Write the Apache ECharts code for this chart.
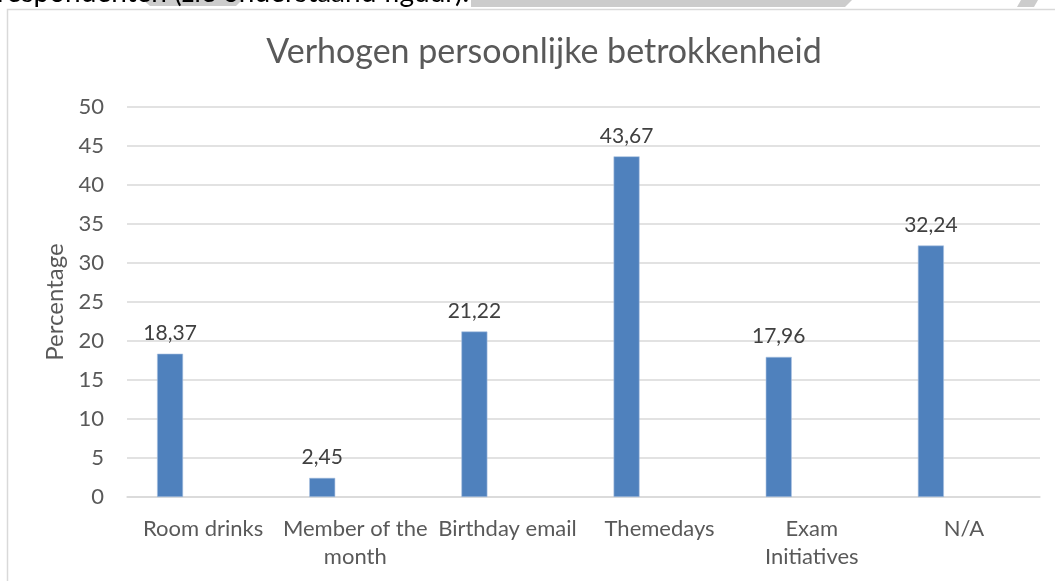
<!DOCTYPE html>
<html>
<head>
<meta charset="utf-8">
<script src="https://cdn.jsdelivr.net/npm/echarts@6/dist/echarts.min.js"></script>
<style>
  html, body { margin: 0; padding: 0; background: #fff; }
  #container { width: 1055px; height: 581px; }
</style>
</head>
<body>
<div id="container"></div>
<script>
'use strict';
var categories = ['Room drinks', 'Member of the\nmonth', 'Birthday email', 'Themedays', 'Exam\nInitiatives', 'N/A'];
var percentages = [18.37, 2.45, 21.22, 43.67, 17.96, 32.24];
var yTicks = { min: 0, max: 50, interval: 5 };

var fontName = 'Lato';
var textGrey = '#595959';
var gridGrey = '#d9d9d9';

var dom = document.getElementById('container');
var myChart = echarts.init(dom, null, { renderer: 'canvas' });

var option = {
    backgroundColor: '#fff',
    animation: false,
    textStyle: { fontFamily: fontName },
    title: {
        text: 'Verhogen persoonlijke betrokkenheid',
        left: 539,
        top: 30,
        textAlign: 'center',
        textStyle: { fontFamily: fontName, fontSize: 34, fontWeight: 'normal', color: textGrey }
    },
    graphic: [
        // page decoration above the chart frame
        { type: 'polygon', shape: { points: [[143, 0], [242, 0], [236, 6], [150, 6]] }, style: { fill: '#cccccc' }, z: 0 },
        { type: 'polygon', shape: { points: [[471, 0], [852, 0], [845, 7], [471, 7]] }, style: { fill: '#cccccc' }, z: 0 },
        { type: 'polygon', shape: { points: [[1021, 0], [1038, 0], [1034, 7], [1017, 7]] }, style: { fill: '#cccccc' }, z: 0 },
        {
            type: 'text', left: -3, top: -21, z: 1,
            style: { text: 'respondenten (zie onderstaand figuur).', font: '28px ' + fontName, fill: '#000' }
        },
        {
            type: 'rect', z: 1,
            shape: { x: 7.5, y: 9.5, width: 1100, height: 600 },
            style: { fill: 'none', stroke: gridGrey, lineWidth: 1.5 }
        }
    ],
    grid: { left: 127, right: 15, top: 107, bottom: 84, containLabel: false },
    xAxis: {
        type: 'category',
        data: categories,
        axisLine: { lineStyle: { color: gridGrey, width: 1.5 } },
        axisTick: { show: false },
        axisLabel: { color: textGrey, fontSize: 22, margin: 18, lineHeight: 28, interval: 0 }
    },
    yAxis: {
        type: 'value',
        min: yTicks.min,
        max: yTicks.max,
        interval: yTicks.interval,
        name: 'Percentage',
        nameLocation: 'middle',
        nameGap: 56,
        nameTextStyle: { color: textGrey, fontSize: 24 },
        axisLine: { show: false },
        axisTick: { show: false },
        axisLabel: { color: textGrey, fontSize: 22, margin: 23 },
        splitLine: { lineStyle: { color: gridGrey, width: 1.5 } }
    },
    series: [
        {
            type: 'bar',
            data: percentages,
            barWidth: 26,
            barGap: '154%',
            itemStyle: { color: '#4f81bd', borderColor: '#a9c1e0', borderWidth: 0.6 },
            label: {
                show: true,
                position: 'top',
                distance: 10,
                color: '#404040',
                fontSize: 21,
                formatter: function (p) { return p.value.toFixed(2).replace('.', ','); }
            }
        },
        {
            // empty second series, as in the original chart the bars sit left of centre
            type: 'bar',
            data: [],
            barWidth: 26
        }
    ]
};
myChart.setOption(option);
</script>
</body>
</html>
